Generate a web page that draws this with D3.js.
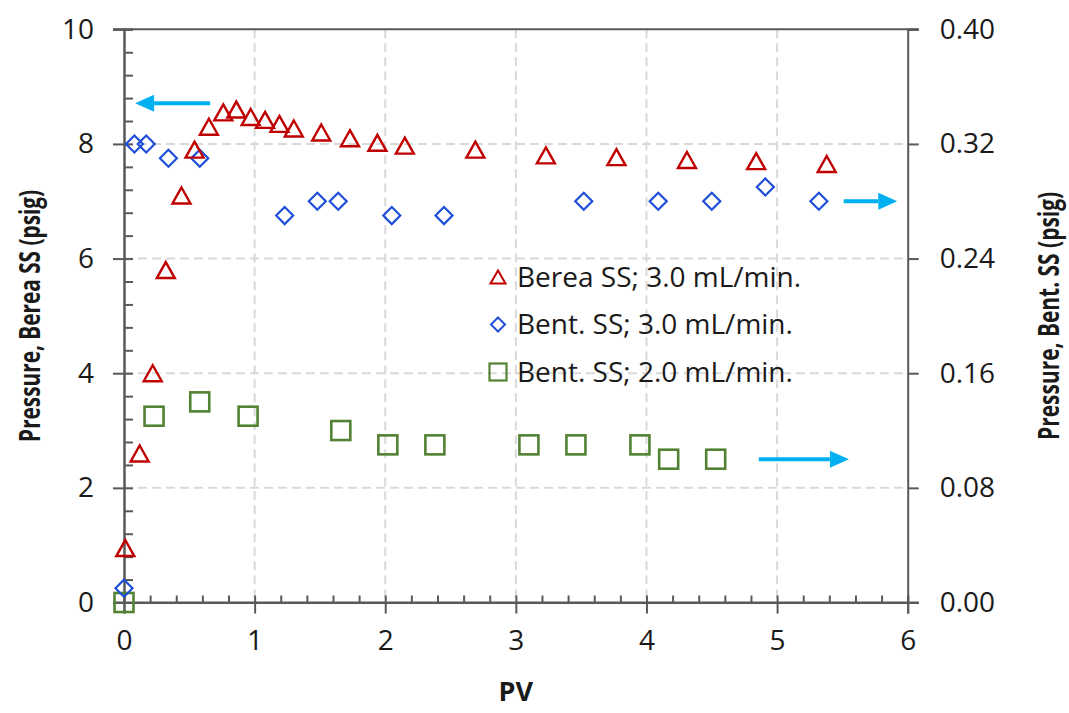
<!DOCTYPE html>
<html>
<head>
<meta charset="utf-8">
<script src="https://cdn.jsdelivr.net/npm/d3@7"></script>
<style>
  html, body { margin: 0; padding: 0; background: #fff; }
  svg text { font-family: "Open Sans", "Noto Sans", sans-serif; fill: #1a1a1a; }
  .title { font-family: "Open Sans", sans-serif; font-weight: bold; }
</style>
</head>
<body>
<svg id="chart" width="1069" height="713"></svg>
<script>
// ---- Data ----
const bereaPV = [0.01, 0.12, 0.22, 0.32, 0.44, 0.54, 0.65, 0.76, 0.86, 0.97, 1.08, 1.19, 1.30, 1.51, 1.73, 1.94, 2.15, 2.69, 3.23, 3.77, 4.31, 4.84, 5.38];
const bereaP  = [0.95, 2.6, 4.0, 5.8, 7.1, 7.9, 8.3, 8.55, 8.6, 8.47, 8.42, 8.35, 8.27, 8.2, 8.1, 8.02, 7.97, 7.9, 7.8, 7.77, 7.72, 7.7, 7.65];

const bent3PV = [0.0, 0.08, 0.17, 0.34, 0.58, 1.23, 1.48, 1.64, 2.05, 2.45, 3.52, 4.09, 4.50, 4.91, 5.32];
const bent3P  = [0.01, 0.32, 0.32, 0.31, 0.31, 0.27, 0.28, 0.28, 0.27, 0.27, 0.28, 0.28, 0.28, 0.29, 0.28];

const bent2PV = [0.0, 0.23, 0.58, 0.95, 1.66, 2.02, 2.38, 3.10, 3.46, 3.95, 4.17, 4.53];
const bent2P  = [0.0, 0.13, 0.14, 0.13, 0.12, 0.11, 0.11, 0.11, 0.11, 0.11, 0.10, 0.10];

const xTicks = [0, 1, 2, 3, 4, 5, 6];
const yLeftTicks = [0, 2, 4, 6, 8, 10];
const yRightTicks = [0, 0.08, 0.16, 0.24, 0.32, 0.40];

const seriesNames = ["Berea SS; 3.0 mL/min.", "Bent. SS; 3.0 mL/min.", "Bent. SS; 2.0 mL/min."];

// annotation arrows: [x1, x2, y]
const arrowLeft   = [0.66, 0.085, 8.71];
const arrowRight1 = [5.51, 5.92, 0.28];
const arrowRight2 = [4.86, 5.55, 0.10];

const xLabel = "PV";
const yLeftLabel = "Pressure, Berea SS (psig)";
const yRightLabel = "Pressure, Bent. SS (psig)";

// ---- Layout ----
const svg = d3.select("#chart");
const L = 124, R = 907.7, T = 29.3, B = 602.5;
const x = d3.scaleLinear().domain([0, 6]).range([L, R]);
const yL = d3.scaleLinear().domain([0, 10]).range([B, T]);
const yR = d3.scaleLinear().domain([0, 0.4]).range([B, T]);

const axisColor = "#595959";
const gridColor = "#d9d9d9";
const red = "#c00000", blue = "#1f4fd8", green = "#548235", arrowColor = "#00b0f0";

// gridlines
const grid = svg.append("g");
grid.selectAll("line.h").data(yLeftTicks.filter(d => d > 0 && d < 10)).join("line")
  .attr("x1", L).attr("x2", R).attr("y1", d => yL(d)).attr("y2", d => yL(d))
  .attr("stroke", gridColor).attr("stroke-width", 2).attr("stroke-dasharray", "9,5");
grid.selectAll("line.v").data(xTicks.filter(d => d > 0 && d < 6)).join("line")
  .attr("y1", T).attr("y2", B).attr("x1", d => x(d)).attr("x2", d => x(d))
  .attr("stroke", gridColor).attr("stroke-width", 2).attr("stroke-dasharray", "9,5");

// top border
svg.append("line").attr("x1", L - 11).attr("x2", R + 11).attr("y1", T).attr("y2", T)
  .attr("stroke", axisColor).attr("stroke-width", 2);

// Left axis
const gL = svg.append("g").attr("transform", `translate(${L},0)`);
gL.call(d3.axisLeft(yL).tickValues(yLeftTicks).tickSize(11).tickPadding(19).tickFormat(d3.format("d")));
gL.append("g").call(d3.axisRight(yL).tickValues(d3.range(0, 10.01, 0.4).map(v => +v.toFixed(1))).tickSize(9).tickFormat(""));

// Bottom axis
const gB = svg.append("g").attr("transform", `translate(0,${B})`);
gB.call(d3.axisBottom(x).tickValues(xTicks).tickSize(11).tickPadding(17).tickFormat(d3.format("d")));
gB.append("g").call(d3.axisTop(x).tickValues(d3.range(0, 6.001, 0.2).map(v => +v.toFixed(1))).tickSize(7).tickFormat(""));

// Right axis
const gR = svg.append("g").attr("transform", `translate(${R},0)`);
gR.call(d3.axisRight(yR).tickValues(yRightTicks).tickSize(11).tickPadding(21).tickFormat(d3.format(".2f")));

svg.selectAll(".domain").attr("stroke", axisColor).attr("stroke-width", 2);
svg.selectAll(".tick line").attr("stroke", axisColor).attr("stroke-width", 2);
svg.selectAll(".tick text").attr("font-size", 28).attr("font-family", "'Open Sans', sans-serif").attr("fill", "#1a1a1a");
svg.append("line").attr("x1", L - 11).attr("x2", R + 11).attr("y1", B).attr("y2", B)
  .attr("stroke", axisColor).attr("stroke-width", 2);

// ---- Markers ----
function triPath(cx, cy, w, h) {
  return `M${cx},${cy - h / 2}L${cx + w / 2},${cy + h / 2}L${cx - w / 2},${cy + h / 2}Z`;
}
function diaPath(cx, cy, s) {
  return `M${cx},${cy - s / 2}L${cx + s / 2},${cy}L${cx},${cy + s / 2}L${cx - s / 2},${cy}Z`;
}

const bereaData = bereaPV.map((v, i) => [v, bereaP[i]]);
const bent3Data = bent3PV.map((v, i) => [v, bent3P[i]]);
const bent2Data = bent2PV.map((v, i) => [v, bent2P[i]]);

svg.append("g").selectAll("rect").data(bent2Data).join("rect")
  .attr("x", d => x(d[0]) - 9.5).attr("y", d => yR(d[1]) - 9.5)
  .attr("width", 19).attr("height", 19)
  .attr("fill", "none").attr("stroke", green).attr("stroke-width", 2.6);

svg.append("g").selectAll("path").data(bent3Data).join("path")
  .attr("d", d => diaPath(x(d[0]), yR(d[1]), 17))
  .attr("fill", "none").attr("stroke", blue).attr("stroke-width", 2.2);

svg.append("g").selectAll("path").data(bereaData).join("path")
  .attr("d", d => triPath(x(d[0]), yL(d[1]), 18, 16))
  .attr("fill", "none").attr("stroke", red).attr("stroke-width", 2.4);

// ---- Arrows ----
function arrow(x1, x2, yy) {
  const dir = Math.sign(x2 - x1);
  const head = 19, hw = 8.5;
  const g = svg.append("g");
  g.append("line").attr("x1", x1).attr("x2", x2 - dir * head).attr("y1", yy).attr("y2", yy)
    .attr("stroke", arrowColor).attr("stroke-width", 4);
  g.append("path").attr("d", `M${x2},${yy}L${x2 - dir * head},${yy - hw}L${x2 - dir * head},${yy + hw}Z`)
    .attr("fill", arrowColor);
}
arrow(x(arrowLeft[0]), x(arrowLeft[1]), yL(arrowLeft[2]));
arrow(x(arrowRight1[0]), x(arrowRight1[1]), yR(arrowRight1[2]));
arrow(x(arrowRight2[0]), x(arrowRight2[1]), yR(arrowRight2[2]));

// ---- Legend ----
const legX = 498, legY0 = 277, legDy = 47.5;
const leg = svg.append("g");
seriesNames.forEach((name, i) => {
  const cy = legY0 + i * legDy;
  if (i === 0) leg.append("path").attr("d", triPath(legX, cy, 15, 13)).attr("fill", "none").attr("stroke", red).attr("stroke-width", 2);
  if (i === 1) leg.append("path").attr("d", diaPath(legX, cy, 14)).attr("fill", "none").attr("stroke", blue).attr("stroke-width", 2);
  if (i === 2) leg.append("rect").attr("x", legX - 8.5).attr("y", cy - 8.5).attr("width", 17).attr("height", 17).attr("fill", "none").attr("stroke", green).attr("stroke-width", 2.2);
  leg.append("text").attr("x", legX + 19).attr("y", cy).attr("dy", "0.35em")
    .attr("font-size", 28).text(name);
});

// ---- Axis titles ----
svg.append("text").attr("class", "title").attr("x", (L + R) / 2).attr("y", 701)
  .attr("text-anchor", "middle").attr("font-size", 27).text(xLabel);
svg.append("text").attr("class", "title").attr("transform", `translate(30,${(T + B) / 2}) rotate(-90)`)
  .attr("dy", "0.35em").attr("text-anchor", "middle").attr("font-size", 28)
  .attr("textLength", 252).attr("lengthAdjust", "spacingAndGlyphs").text(yLeftLabel);
svg.append("text").attr("class", "title").attr("transform", `translate(1049,${(T + B) / 2}) rotate(-90)`)
  .attr("dy", "0.35em").attr("text-anchor", "middle").attr("font-size", 28)
  .attr("textLength", 248).attr("lengthAdjust", "spacingAndGlyphs").text(yRightLabel);
</script>
</body>
</html>
